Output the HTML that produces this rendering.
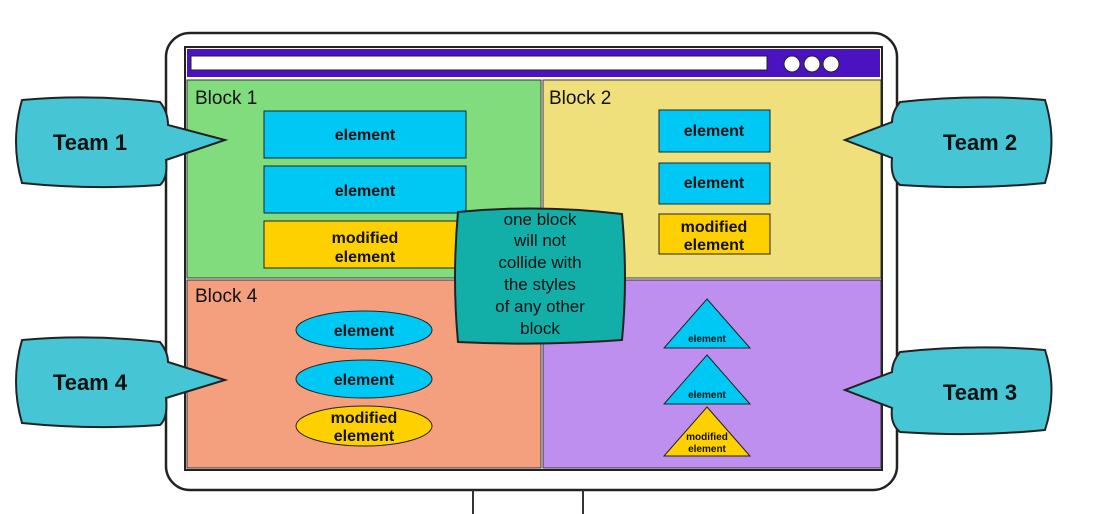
<!DOCTYPE html>
<html><head><meta charset="utf-8"><style>
html,body{margin:0;padding:0;background:#fff;width:1098px;height:514px;overflow:hidden}
svg{display:block}
text{font-family:"Liberation Sans",sans-serif;fill:#111}
</style></head><body>
<svg width="1098" height="514" viewBox="0 0 1098 514">
<g>
<rect x="166" y="33" width="731" height="457" rx="24" fill="#fff" stroke="#222" stroke-width="2.5"/>
<line x1="473" y1="490" x2="473" y2="514" stroke="#333" stroke-width="2"/>
<line x1="583" y1="490" x2="583" y2="514" stroke="#333" stroke-width="2"/>
<rect x="185" y="47" width="697" height="423" fill="#fff" stroke="#222" stroke-width="2"/>
</g>
<g>
<rect x="187" y="49" width="693" height="28" fill="#4a12c0"/>
<rect x="191" y="56" width="576" height="14" fill="#fff" stroke="#222"/>
<circle cx="792" cy="64" r="8" fill="#fff" stroke="#222"/>
<circle cx="812" cy="64" r="8" fill="#fff" stroke="#222"/>
<circle cx="831" cy="64" r="8" fill="#fff" stroke="#222"/>
</g>
<rect x="187" y="80" width="354" height="198" fill="#80dc7c" stroke="#333"/>
<rect x="543" y="80" width="338" height="198" fill="#f0e07c" stroke="#333"/>
<rect x="187" y="280" width="354" height="188" fill="#f4a07e" stroke="#333"/>
<rect x="543" y="280" width="338" height="188" fill="#bf8ff0" stroke="#333"/>
<text x="195" y="104" font-size="19">Block 1</text>
<text x="549" y="104" font-size="19">Block 2</text>
<text x="195" y="302" font-size="19">Block 4</text>
<g font-size="16" font-weight="bold" text-anchor="middle">
<rect x="264" y="111" width="202" height="47" fill="#00c8f5" stroke="#222"/>
<text x="365" y="140" text-anchor="middle" font-weight="bold" font-size="16">element</text>
<rect x="264" y="166" width="202" height="47" fill="#00c8f5" stroke="#222"/>
<text x="365" y="196" text-anchor="middle" font-weight="bold" font-size="16">element</text>
<rect x="264" y="221" width="202" height="47" fill="#ffd000" stroke="#222"/>
<text x="365" y="243" text-anchor="middle" font-weight="bold" font-size="16">modified</text>
<text x="365" y="262" text-anchor="middle" font-weight="bold" font-size="16">element</text>
<rect x="659" y="110" width="111" height="42" fill="#00c8f5" stroke="#222"/>
<text x="714" y="136" text-anchor="middle" font-weight="bold" font-size="16">element</text>
<rect x="659" y="163" width="111" height="41" fill="#00c8f5" stroke="#222"/>
<text x="714" y="188" text-anchor="middle" font-weight="bold" font-size="16">element</text>
<rect x="659" y="214" width="111" height="40" fill="#ffd000" stroke="#222"/>
<text x="714" y="232" text-anchor="middle" font-weight="bold" font-size="16">modified</text>
<text x="714" y="250" text-anchor="middle" font-weight="bold" font-size="16">element</text>
<ellipse cx="364" cy="330" rx="68" ry="19" fill="#00c8f5" stroke="#222"/>
<text x="364" y="336" text-anchor="middle" font-weight="bold" font-size="16">element</text>
<ellipse cx="364" cy="379" rx="68" ry="19" fill="#00c8f5" stroke="#222"/>
<text x="364" y="385" text-anchor="middle" font-weight="bold" font-size="16">element</text>
<ellipse cx="364" cy="426" rx="68" ry="20" fill="#ffd000" stroke="#222"/>
<text x="364" y="423" text-anchor="middle" font-weight="bold" font-size="16">modified</text>
<text x="364" y="441" text-anchor="middle" font-weight="bold" font-size="16">element</text>
<polygon points="707,299 750,348 664,348" fill="#00c8f5" stroke="#222"/>
<text x="707" y="342" text-anchor="middle" font-weight="bold" font-size="10">element</text>
<polygon points="707,355 750,404 664,404" fill="#00c8f5" stroke="#222"/>
<text x="707" y="398" text-anchor="middle" font-weight="bold" font-size="10">element</text>
<polygon points="707,407 750,456 664,456" fill="#ffd000" stroke="#222"/>
<text x="707" y="440" text-anchor="middle" font-weight="bold" font-size="10">modified</text>
<text x="707" y="452" text-anchor="middle" font-weight="bold" font-size="10">element</text>
</g>
<g>
<path d="M458,212 Q540,204 622,214 Q628,278 622,340 Q540,346 458,342 Q452,278 458,212 Z" fill="#12afa8" stroke="#222" stroke-width="2"/>
<g font-size="17" text-anchor="middle">
<text x="540" y="225" text-anchor="middle">one block</text>
<text x="540" y="246" text-anchor="middle">will not</text>
<text x="540" y="268" text-anchor="middle">collide with</text>
<text x="540" y="290" text-anchor="middle">the styles</text>
<text x="540" y="312" text-anchor="middle">of any other</text>
<text x="540" y="334" text-anchor="middle">block</text>
</g></g>
<g>
<path d="M22,100 Q90,94 160,102 Q168,112 168,125 L225,140 L166,160 Q168,178 160,185 Q90,190 22,183 Q10,142 22,100 Z" fill="#46c5d5" stroke="#222" stroke-width="2"/>
<text x="90" y="150" font-size="22" font-weight="bold" text-anchor="middle">Team 1</text></g>
<g>
<path d="M22,340 Q90,334 160,342 Q168,352 168,362 L225,380 L166,398 Q168,418 160,425 Q90,430 22,423 Q10,382 22,340 Z" fill="#46c5d5" stroke="#222" stroke-width="2"/>
<text x="90" y="390" font-size="22" font-weight="bold" text-anchor="middle">Team 4</text></g>
<g>
<path d="M1045,100 Q975,94 900,102 Q892,112 892,122 L845,140 L892,158 Q890,178 900,185 Q975,190 1045,183 Q1058,142 1045,100 Z" fill="#46c5d5" stroke="#222" stroke-width="2"/>
<text x="980" y="150" font-size="22" font-weight="bold" text-anchor="middle">Team 2</text></g>
<g>
<path d="M1045,350 Q975,344 900,352 Q892,362 892,372 L845,390 L892,408 Q890,424 900,432 Q975,437 1045,430 Q1058,390 1045,350 Z" fill="#46c5d5" stroke="#222" stroke-width="2"/>
<text x="980" y="400" font-size="22" font-weight="bold" text-anchor="middle">Team 3</text></g>
</svg>
</body></html>
